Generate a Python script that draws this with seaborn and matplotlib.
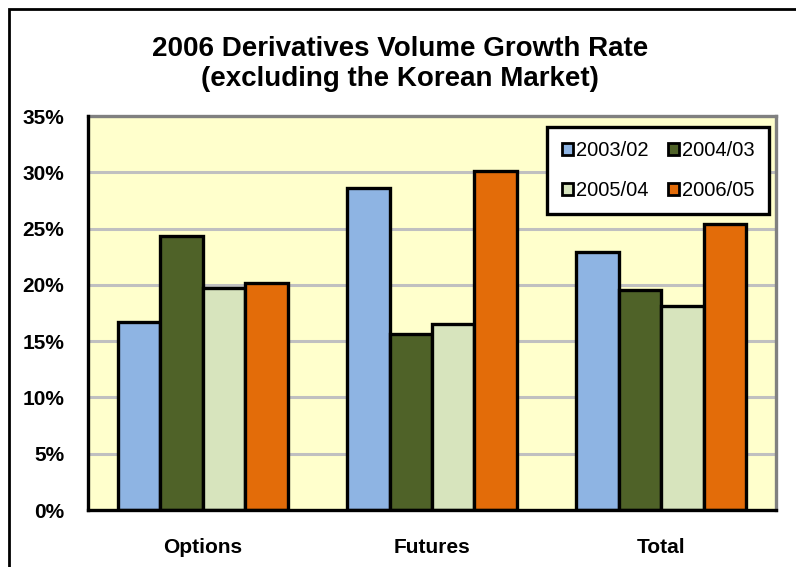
import matplotlib
matplotlib.use("Agg")
import matplotlib.pyplot as plt
from matplotlib.patches import Rectangle, Patch
import seaborn as sns
import pandas as pd

# Growth rates (%) by market segment and period
markets = ["Options", "Futures", "Total"]
periods = ["2003/02", "2004/03", "2005/04", "2006/05"]
growth_2003_02 = [16.7, 28.6, 22.9]
growth_2004_03 = [24.3, 15.6, 19.5]
growth_2005_04 = [19.7, 16.5, 18.1]
growth_2006_05 = [20.2, 30.1, 25.4]
colors = ["#8EB4E3", "#4F6228", "#D7E4BD", "#E36C09"]
y_ticks = [0, 5, 10, 15, 20, 25, 30, 35]

series = [growth_2003_02, growth_2004_03, growth_2005_04, growth_2006_05]
df = pd.DataFrame({
    "Market": [m for _ in periods for m in markets],
    "Period": [p for p in periods for _ in markets],
    "Growth": [v for s in series for v in s],
})

sns.set_theme(style="white")
plt.rcParams["font.family"] = ["Liberation Sans", "DejaVu Sans"]
plt.rcParams["text.color"] = "black"
plt.rcParams["xtick.color"] = "black"
plt.rcParams["ytick.color"] = "black"
plt.rcParams["xtick.labelcolor"] = "black"
plt.rcParams["ytick.labelcolor"] = "black"

fig = plt.figure(figsize=(7.96, 5.67), dpi=100)
ax = fig.add_axes([88 / 796, 1 - 510 / 567, (776 - 88) / 796, (510 - 116) / 567])
ax.set_facecolor("#FFFFCC")

sns.barplot(data=df, x="Market", y="Growth", hue="Period", order=markets,
            hue_order=periods, palette=colors, saturation=1, width=0.74,
            edgecolor="black", linewidth=2.4, ax=ax, legend=False, zorder=3)

ax.set_ylim(0, 35)
ax.set_xlim(-0.5, 2.5)
ax.set_yticks(y_ticks)
ax.set_yticklabels([f"{v}%" for v in y_ticks], fontsize=15, fontweight="bold", color="black")
ax.set_xticks(range(len(markets)))
ax.set_xticklabels(markets, fontsize=15, fontweight="bold", color="black")
ax.set_xticks([-0.5, 0.5, 1.5, 2.5], minor=True)
ax.tick_params(axis="x", which="major", length=0, pad=20)
ax.tick_params(axis="x", which="minor", length=5, width=2.2, direction="out", color="black")
ax.tick_params(axis="y", which="major", length=5, width=2.2, direction="out", color="black", pad=12)
ax.set_xlabel("")
ax.set_ylabel("")

ax.yaxis.grid(True, color="#C0C0C0", linewidth=2.2, zorder=0)
ax.set_axisbelow(True)

for side in ["left", "bottom"]:
    ax.spines[side].set_color("black")
    ax.spines[side].set_linewidth(2.4)
    ax.spines[side].set_zorder(5)
for side in ["top", "right"]:
    ax.spines[side].set_color("#808080")
    ax.spines[side].set_linewidth(2.4)

# legend reads row by row: matplotlib fills columns first, so interleave
order = [0, 2, 1, 3]
handles = [Patch(facecolor=colors[i], edgecolor="black", linewidth=2.0) for i in order]
labels = [periods[i] for i in order]
leg = ax.legend(handles, labels, ncol=2, loc="upper right",
                bbox_to_anchor=(0.99, 0.972), fontsize=14.5, frameon=True,
                fancybox=False, edgecolor="black", handlelength=0.55,
                handleheight=0.55, handletextpad=0.15, columnspacing=1.0,
                labelspacing=1.05, borderpad=0.7, borderaxespad=0,
                labelcolor="black")
leg.get_frame().set_linewidth(2.4)
leg.get_frame().set_facecolor("white")
leg.get_frame().set_alpha(1)
leg.set_zorder(10)

fig.text(0.503, 1 - 64 / 567, "2006 Derivatives Volume Growth Rate\n(excluding the Korean Market)",
         ha="center", va="center", fontsize=20, fontweight="bold", linespacing=1.2,
         color="black")

fig.patches.append(Rectangle((9 / 796, -0.05), 1.1, 1 - 9 / 567 + 0.05,
                             transform=fig.transFigure, fill=False,
                             edgecolor="black", linewidth=2.0))

fig.savefig("out.png", dpi=100)
